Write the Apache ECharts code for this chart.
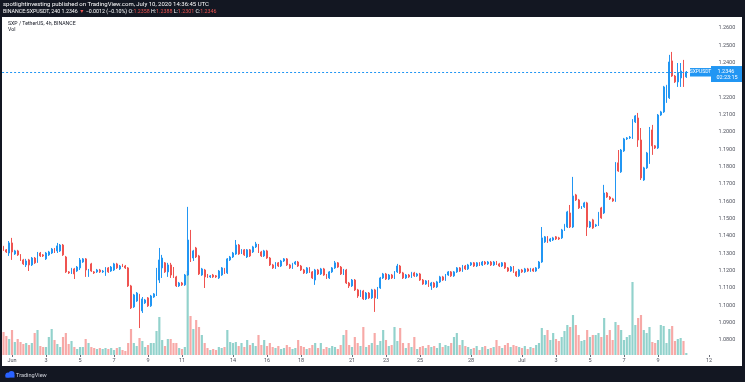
<!DOCTYPE html>
<html><head><meta charset="utf-8">
<script src="https://cdn.jsdelivr.net/npm/echarts@6/dist/echarts.min.js"></script>
<style>html,body{margin:0;padding:0;background:#131722;}#c{width:745px;height:382px;}</style>
</head><body><div id="c"></div>
<script>
// ---- data ----
const startTimeUTC = Date.UTC(2020, 4, 31, 12); // first 4h candle
const barHours = 4;
const slotCount = 250; // candles + empty future slots
const tickDays = ['06-01','06-03','06-05','06-07','06-09','06-11','06-14','06-16','06-18','06-21','06-23','06-25','06-28','07-01','07-03','07-05','07-07','07-09','07-12'];
const tickTexts = ['Jun','3','5','7','9','11','14','16','18','21','23','25','28','Jul','3','5','7','9','12'];
const priceMin = 1.07, priceMax = 1.27, priceStep = 0.01;
// [open, close, low, high]
const candles = [
[1.1337,1.1320,1.1314,1.1343],[1.1320,1.1308,1.1302,1.1325],[1.1302,1.1360,1.1285,1.1371],[1.1360,1.1308,1.1262,1.1389],[1.1296,1.1314,1.1291,1.1320],[1.1314,1.1291,1.1285,1.1320],[1.1291,1.1262,1.1256,1.1296],[1.1262,1.1239,1.1233,1.1268],[1.1233,1.1256,1.1221,1.1268],[1.1262,1.1233,1.1198,1.1268],
[1.1233,1.1273,1.1227,1.1279],[1.1273,1.1245,1.1239,1.1279],[1.1250,1.1302,1.1245,1.1308],[1.1302,1.1285,1.1279,1.1308],[1.1291,1.1285,1.1279,1.1296],[1.1268,1.1302,1.1262,1.1308],[1.1291,1.1308,1.1285,1.1314],[1.1302,1.1325,1.1296,1.1331],[1.1325,1.1308,1.1302,1.1331],[1.1314,1.1343,1.1302,1.1360],
[1.1314,1.1348,1.1308,1.1354],[1.1348,1.1291,1.1285,1.1354],[1.1279,1.1193,1.1187,1.1285],[1.1193,1.1187,1.1181,1.1198],[1.1187,1.1210,1.1181,1.1216],[1.1210,1.1181,1.1152,1.1216],[1.1198,1.1221,1.1193,1.1227],[1.1216,1.1262,1.1204,1.1273],[1.1250,1.1268,1.1245,1.1273],[1.1268,1.1204,1.1164,1.1273],
[1.1175,1.1198,1.1164,1.1210],[1.1239,1.1198,1.1193,1.1245],[1.1193,1.1187,1.1181,1.1198],[1.1193,1.1204,1.1187,1.1210],[1.1204,1.1193,1.1187,1.1210],[1.1193,1.1198,1.1187,1.1204],[1.1193,1.1216,1.1170,1.1221],[1.1216,1.1193,1.1187,1.1221],[1.1198,1.1221,1.1193,1.1227],[1.1204,1.1239,1.1198,1.1245],
[1.1239,1.1216,1.1210,1.1245],[1.1210,1.1227,1.1204,1.1233],[1.1233,1.1227,1.1221,1.1239],[1.1227,1.1216,1.1210,1.1233],[1.1216,1.1112,1.1106,1.1221],[1.1112,1.0985,1.0979,1.1118],[1.0991,1.1060,1.0985,1.1066],[1.1025,1.1071,1.1020,1.1077],[1.1060,1.0991,1.0869,1.1066],[1.0968,1.1037,1.0956,1.1048],
[1.1014,1.1031,1.1008,1.1037],[1.1043,1.0997,1.0991,1.1048],[1.0997,1.1054,1.0991,1.1060],[1.1048,1.1066,1.1043,1.1071],[1.1060,1.1204,1.1054,1.1216],[1.1146,1.1262,1.1129,1.1331],[1.1216,1.1273,1.1158,1.1291],[1.1245,1.1193,1.1187,1.1250],[1.1193,1.1233,1.1164,1.1245],[1.1233,1.1175,1.1158,1.1245],
[1.1204,1.1164,1.1158,1.1221],[1.1164,1.1112,1.1106,1.1170],[1.1112,1.1129,1.1106,1.1135],[1.1129,1.1118,1.1112,1.1135],[1.1118,1.1175,1.1112,1.1181],[1.1175,1.1377,1.1170,1.1568],[1.1377,1.1273,1.1250,1.1435],[1.1273,1.1314,1.1256,1.1320],[1.1331,1.1279,1.1273,1.1337],[1.1285,1.1181,1.1175,1.1291],
[1.1175,1.1210,1.1170,1.1216],[1.1204,1.1164,1.1100,1.1210],[1.1175,1.1164,1.1158,1.1181],[1.1164,1.1170,1.1158,1.1175],[1.1175,1.1164,1.1158,1.1181],[1.1170,1.1164,1.1158,1.1175],[1.1158,1.1198,1.1152,1.1204],[1.1175,1.1216,1.1170,1.1221],[1.1210,1.1187,1.1181,1.1216],[1.1187,1.1268,1.1181,1.1273],
[1.1262,1.1279,1.1256,1.1285],[1.1279,1.1302,1.1273,1.1308],[1.1296,1.1348,1.1291,1.1377],[1.1348,1.1296,1.1291,1.1354],[1.1302,1.1320,1.1296,1.1325],[1.1320,1.1291,1.1285,1.1325],[1.1279,1.1320,1.1273,1.1325],[1.1320,1.1285,1.1279,1.1325],[1.1308,1.1337,1.1302,1.1343],[1.1337,1.1354,1.1331,1.1366],
[1.1348,1.1308,1.1302,1.1354],[1.1308,1.1285,1.1279,1.1314],[1.1285,1.1314,1.1279,1.1320],[1.1314,1.1273,1.1268,1.1320],[1.1273,1.1233,1.1227,1.1279],[1.1233,1.1216,1.1210,1.1239],[1.1216,1.1245,1.1210,1.1250],[1.1245,1.1227,1.1221,1.1250],[1.1227,1.1256,1.1221,1.1262],[1.1256,1.1268,1.1250,1.1273],
[1.1268,1.1233,1.1227,1.1273],[1.1233,1.1216,1.1210,1.1239],[1.1216,1.1239,1.1210,1.1245],[1.1239,1.1250,1.1233,1.1256],[1.1250,1.1227,1.1221,1.1256],[1.1227,1.1204,1.1198,1.1233],[1.1204,1.1187,1.1181,1.1210],[1.1187,1.1216,1.1181,1.1221],[1.1216,1.1193,1.1187,1.1221],[1.1193,1.1158,1.1152,1.1198],
[1.1146,1.1204,1.1118,1.1210],[1.1204,1.1181,1.1175,1.1210],[1.1181,1.1210,1.1175,1.1216],[1.1210,1.1175,1.1170,1.1216],[1.1175,1.1158,1.1152,1.1181],[1.1158,1.1193,1.1152,1.1198],[1.1193,1.1216,1.1187,1.1221],[1.1216,1.1245,1.1210,1.1256],[1.1245,1.1221,1.1216,1.1250],[1.1221,1.1181,1.1175,1.1227],
[1.1181,1.1204,1.1175,1.1210],[1.1204,1.1129,1.1123,1.1210],[1.1129,1.1112,1.1100,1.1135],[1.1112,1.1146,1.1106,1.1152],[1.1146,1.1089,1.1083,1.1152],[1.1089,1.1054,1.1043,1.1095],[1.1054,1.1083,1.1048,1.1089],[1.1083,1.1037,1.1031,1.1089],[1.1037,1.1071,1.1031,1.1077],[1.1071,1.1043,1.1037,1.1077],
[1.1043,1.1089,1.1037,1.1095],[1.1089,1.1043,1.0962,1.1095],[1.1043,1.1100,1.1037,1.1106],[1.1100,1.1158,1.1095,1.1164],[1.1158,1.1181,1.1152,1.1187],[1.1181,1.1152,1.1146,1.1187],[1.1152,1.1175,1.1146,1.1181],[1.1175,1.1158,1.1152,1.1181],[1.1158,1.1193,1.1152,1.1198],[1.1193,1.1227,1.1187,1.1239],
[1.1227,1.1187,1.1181,1.1233],[1.1187,1.1158,1.1152,1.1193],[1.1158,1.1175,1.1152,1.1181],[1.1175,1.1164,1.1158,1.1181],[1.1164,1.1187,1.1158,1.1193],[1.1187,1.1170,1.1164,1.1193],[1.1170,1.1181,1.1164,1.1187],[1.1181,1.1146,1.1141,1.1187],[1.1146,1.1123,1.1118,1.1152],[1.1123,1.1141,1.1118,1.1146],
[1.1141,1.1112,1.1106,1.1146],[1.1112,1.1129,1.1089,1.1135],[1.1129,1.1106,1.1100,1.1135],[1.1106,1.1135,1.1100,1.1141],[1.1135,1.1164,1.1129,1.1170],[1.1164,1.1146,1.1141,1.1170],[1.1146,1.1175,1.1141,1.1181],[1.1175,1.1193,1.1170,1.1198],[1.1193,1.1170,1.1164,1.1198],[1.1170,1.1193,1.1164,1.1198],
[1.1193,1.1216,1.1187,1.1221],[1.1216,1.1198,1.1193,1.1221],[1.1198,1.1227,1.1193,1.1233],[1.1227,1.1210,1.1204,1.1233],[1.1210,1.1233,1.1204,1.1239],[1.1233,1.1245,1.1227,1.1250],[1.1245,1.1227,1.1221,1.1250],[1.1227,1.1245,1.1221,1.1250],[1.1245,1.1233,1.1227,1.1250],[1.1233,1.1250,1.1227,1.1256],
[1.1250,1.1239,1.1233,1.1256],[1.1239,1.1250,1.1233,1.1256],[1.1250,1.1233,1.1227,1.1256],[1.1233,1.1250,1.1227,1.1256],[1.1250,1.1239,1.1233,1.1256],[1.1239,1.1227,1.1221,1.1245],[1.1227,1.1245,1.1221,1.1250],[1.1245,1.1216,1.1210,1.1250],[1.1216,1.1198,1.1193,1.1221],[1.1198,1.1221,1.1193,1.1227],
[1.1221,1.1193,1.1187,1.1227],[1.1193,1.1170,1.1164,1.1198],[1.1170,1.1204,1.1164,1.1210],[1.1204,1.1193,1.1187,1.1210],[1.1193,1.1210,1.1187,1.1216],[1.1210,1.1198,1.1193,1.1216],[1.1198,1.1210,1.1193,1.1216],[1.1210,1.1198,1.1193,1.1216],[1.1198,1.1216,1.1193,1.1221],[1.1216,1.1250,1.1210,1.1256],
[1.1250,1.1389,1.1245,1.1452],[1.1366,1.1395,1.1360,1.1400],[1.1395,1.1366,1.1360,1.1400],[1.1371,1.1383,1.1366,1.1389],[1.1377,1.1389,1.1371,1.1395],[1.1395,1.1383,1.1377,1.1400],[1.1389,1.1383,1.1377,1.1395],[1.1389,1.1435,1.1383,1.1441],[1.1435,1.1464,1.1429,1.1470],[1.1452,1.1539,1.1446,1.1545],
[1.1533,1.1452,1.1446,1.1579],[1.1452,1.1631,1.1446,1.1741],[1.1637,1.1608,1.1602,1.1643],[1.1608,1.1562,1.1556,1.1614],[1.1562,1.1568,1.1556,1.1573],[1.1568,1.1591,1.1562,1.1597],[1.1591,1.1452,1.1400,1.1597],[1.1452,1.1481,1.1446,1.1487],[1.1493,1.1446,1.1441,1.1499],[1.1458,1.1464,1.1452,1.1470],
[1.1464,1.1533,1.1458,1.1539],[1.1562,1.1504,1.1499,1.1568],[1.1533,1.1648,1.1527,1.1695],[1.1648,1.1625,1.1620,1.1654],[1.1625,1.1614,1.1608,1.1631],[1.1614,1.1602,1.1597,1.1620],[1.1602,1.1822,1.1597,1.1827],[1.1822,1.1775,1.1770,1.1896],[1.1770,1.1896,1.1764,1.1902],[1.1891,1.1960,1.1885,1.1966],
[1.1960,1.1966,1.1954,1.1971],[1.1966,1.1971,1.1960,1.1977],[1.1966,1.2070,1.1960,1.2075],[1.2058,1.2093,1.2052,1.2098],[1.2081,1.1954,1.1914,1.2110],[1.1954,1.1735,1.1723,1.2023],[1.1723,1.1793,1.1718,1.1799],[1.1793,1.1879,1.1787,1.1885],[1.1879,1.2012,1.1816,1.2029],[1.2012,1.1920,1.1868,1.2041],
[1.1920,1.1908,1.1902,1.1925],[1.1908,1.2098,1.1902,1.2104],[1.2098,1.2116,1.2093,1.2122],[1.2116,1.2260,1.2110,1.2266],[1.2185,1.2266,1.2168,1.2272],[1.2197,1.2404,1.2191,1.2445],[1.2410,1.2323,1.2318,1.2462],[1.2323,1.2289,1.2283,1.2329],[1.2289,1.2341,1.2260,1.2398],[1.2312,1.2352,1.2260,1.2398],
[1.2352,1.2318,1.2260,1.2416],[1.2318,1.2346,1.2312,1.2352]
];
const volumes = [
23,19,16,25,13,16,13,11,12,10, 12,22,25,9,8,8,18,26,15,11, 8,18,22,11,14,8,6,8,8,16, 12,8,7,6,7,6,7,6,7,5,
7,8,5,4,12,26,12,9,17,14, 8,10,12,12,24,38,15,9,16,16, 12,12,7,6,8,84,39,26,35,28, 20,12,7,5,6,5,8,7,8,25,
13,12,13,9,12,8,15,10,12,9, 20,10,15,9,12,8,7,9,6,7, 10,8,6,7,15,9,8,6,7,10, 12,7,12,6,8,7,9,8,6,10,
20,25,10,8,18,12,9,28,8,10, 12,22,10,14,25,15,9,10,28,14, 27,12,7,12,8,18,6,8,9,7, 10,8,9,7,12,8,10,9,12,18,
22,10,15,9,8,6,7,9,5,8, 9,6,7,8,15,9,7,10,12,8, 10,9,8,7,9,6,8,7,10,12, 27,20,25,15,22,16,14,18,24,30,
28,40,30,20,14,15,25,18,20,20, 22,18,37,20,25,15,33,30,25,15, 18,20,73,30,37,40,25,22,28,13, 12,15,30,29,12,26,29,14,16,17,14,2
];
const symbolTitle = 'SXP / TetherUS, 4h, BINANCE';
const headerLine1 = 'spotlightinvesting published on TradingView.com, July 10, 2020 14:36:45 UTC';
const countdown = '02:23:15';

// ---- build ----
const pad = n => String(n).padStart(2, '0');
const categories = [];
for (let i = 0; i < slotCount; i++) {
  const d = new Date(startTimeUTC + i * barHours * 3600000);
  categories.push(pad(d.getUTCMonth() + 1) + '-' + pad(d.getUTCDate()) + ' ' + pad(d.getUTCHours()));
}
const isTick = (idx, val) => val.slice(6) === '00' && tickDays.indexOf(val.slice(0, 5)) >= 0;
const UP = '#2196F3', DOWN = '#EF5350';
const UPV = 'rgba(38,166,154,0.5)', DOWNV = 'rgba(239,83,80,0.5)';
const lastClose = candles[candles.length - 1][1];
const FONT = 'Roboto, "Liberation Sans", Arial, sans-serif';

const chart = echarts.init(document.getElementById('c'), null, {renderer: 'canvas'});
const gridL = 2.1, gridR = 34.6;
chart.setOption({
  animation: false,
  backgroundColor: '#131722',
  grid: [
    {left: gridL, right: gridR, top: 10.67, bottom: 24.67},
    {left: gridL, right: gridR, top: 255, bottom: 27}
  ],
  xAxis: [
    {type: 'category', gridIndex: 0, data: categories, show: false},
    {type: 'category', gridIndex: 1, data: categories,
     axisLine: {show: false},
     axisTick: {show: true, alignWithLabel: true, interval: isTick, length: 2, lineStyle: {color: '#6a6d78'}},
     axisLabel: {interval: isTick, formatter: v => tickTexts[tickDays.indexOf(v.slice(0, 5))],
                 fontSize: 5.5, color: '#50535e', margin: 3, fontFamily: FONT},
     splitLine: {show: false}}
  ],
  yAxis: [
    {type: 'value', gridIndex: 0, position: 'right', min: priceMin, max: priceMax, interval: priceStep,
     axisLine: {show: false}, axisTick: {show: false}, splitLine: {show: false},
     axisLabel: {showMinLabel: false, showMaxLabel: false, formatter: v => v.toFixed(4),
                 fontSize: 5.5, color: '#50535e', margin: 8, fontFamily: FONT}},
    {type: 'value', gridIndex: 1, min: 0, max: 100, show: false, splitLine: {show: false}}
  ],
  series: [
    {type: 'bar', xAxisIndex: 1, yAxisIndex: 1, barWidth: '76%', silent: true,
     data: volumes.map((v, i) => ({value: v, itemStyle: {color: candles[i][1] >= candles[i][0] ? UPV : DOWNV}}))},
    {type: 'candlestick', xAxisIndex: 0, yAxisIndex: 0, barWidth: 1.4, silent: true, z: 3,
     data: candles,
     itemStyle: {color: UP, color0: DOWN, borderColor: UP, borderColor0: DOWN, borderWidth: 1}},
    {type: 'line', xAxisIndex: 0, yAxisIndex: 0, data: [], silent: true, z: 2,
     markLine: {silent: true, precision: 6, symbol: ['none', 'none'], label: {show: false}, animation: false,
                lineStyle: {color: UP, type: [2, 2], width: 1},
                data: [{yAxis: lastClose}]}}
  ]
});

const py = chart.convertToPixel({yAxisIndex: 0}, lastClose);
const txt = (x, y, text, fill, size, extra, z) => ({type: 'text', x, y, z: z || 0,
  style: Object.assign({text, fill, font: size + 'px ' + FONT, verticalAlign: 'middle'}, extra || {})});
chart.setOption({
  graphic: [
    {type: 'rect', z: -10, shape: {x: 2, y: 17, width: 740, height: 349}, style: {fill: '#ffffff'}},
    txt(3, 4.5, headerLine1, '#ffffff', 6),
    {type: 'text', x: 3, y: 11.5, style: {
      text: '{w|BINANCE:SXPUSDT, 240 1.2346 }{r|▼}{w| −0.0012 (−0.10%) O:}{r|1.2358}{w| H:}{r|1.2388}{w| L:}{r|1.2301}{w| C:}{r|1.2346}',
      verticalAlign: 'middle', font: '5.3px ' + FONT,
      rich: {w: {fill: '#ffffff', fontSize: 5.3, fontFamily: FONT}, r: {fill: '#ef5350', fontSize: 5.3, fontFamily: FONT}}}},
    txt(8, 24, symbolTitle, '#131722', 5.2),
    txt(8, 30, 'Vol', '#131722', 5.2),
    // price tag (above the dotted price line)
    {type: 'rect', z: 100, shape: {x: 690, y: py - 4, width: 21, height: 8.5}, style: {fill: UP}},
    {type: 'rect', z: 100, shape: {x: 711, y: py - 6, width: 31, height: 16}, style: {fill: UP}},
    txt(700.5, py, 'SXPUSDT', '#ffffff', 5, {align: 'center'}, 101),
    txt(726, py - 0.5, lastClose.toFixed(4), '#ffffff', 5.5, {align: 'center'}, 101),
    txt(727, py + 5.5, countdown, '#ffffff', 5.5, {align: 'center'}, 101),
    // bottom logo
    {type: 'circle', shape: {cx: 8, cy: 375, r: 2.6}, style: {fill: '#2962ff'}},
    {type: 'circle', shape: {cx: 11.5, cy: 374, r: 3}, style: {fill: '#2962ff'}},
    {type: 'rect', shape: {x: 5.5, y: 375, width: 9, height: 2.6}, style: {fill: '#2962ff'}},
    txt(16, 375.5, 'TradingView', '#d1d4dc', 5.6)
  ]
});
</script></body></html>
